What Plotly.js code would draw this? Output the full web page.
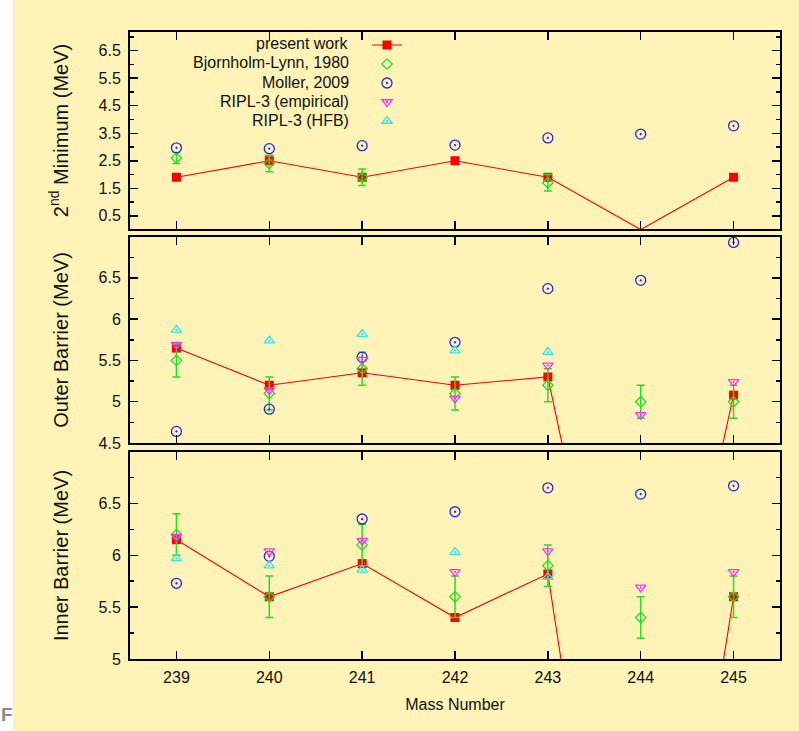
<!DOCTYPE html>
<html>
<head>
<meta charset="utf-8">
<script src="https://cdn.plot.ly/plotly-3.0.1.min.js"></script>
<style>html,body{margin:0;padding:0;background:#fff;}#chart{width:799px;height:731px;}</style>
</head>
<body>
<div id="chart"></div>
<script>
// ---- data ----
const massNumbers = [239, 240, 241, 242, 243, 244, 245];

const seriesNames = ["present work", "Bjornholm-Lynn, 1980", "Moller, 2009", "RIPL-3 (empirical)", "RIPL-3 (HFB)"];

// 2nd minimum (MeV)
const presentSecondMin = [1.9, 2.5, 1.9, 2.5, 1.9, 0, 1.9];
const bjornholmSecondMin = [2.6, 2.4, 1.9, null, 1.7, null, null];
const bjornholmSecondMinErr = [0.2, 0.3, 0.3, null, 0.3, null, null];
const mollerSecondMin = [2.97, 2.94, 3.05, 3.07, 3.33, 3.47, 3.77];
const riplEmpSecondMin = [null, null, null, null, null, null, null];
const riplHfbSecondMin = [null, null, null, null, null, null, null];

// Outer barrier (MeV)
const presentOuter = [5.65, 5.2, 5.35, 5.2, 5.3, 0, 5.08];
const bjornholmOuter = [5.5, 5.1, 5.4, 5.1, 5.2, 5.0, 5.0];
const bjornholmOuterErr = [0.2, 0.2, 0.2, 0.2, 0.2, 0.2, 0.2];
const mollerOuter = [4.64, 4.91, 5.54, 5.72, 6.37, 6.47, 6.93];
const riplEmpOuter = [5.69, 5.14, 5.51, 5.04, 5.44, 4.84, 5.24];
const riplHfbOuter = [5.87, 5.74, 5.82, 5.62, 5.60, null, null];

// Inner barrier (MeV)
const presentInner = [6.15, 5.6, 5.92, 5.4, 5.82, 0, 5.6];
const bjornholmInner = [6.2, 5.6, 6.1, 5.6, 5.9, 5.4, 5.6];
const bjornholmInnerErr = [0.2, 0.2, 0.2, 0.2, 0.2, 0.2, 0.2];
const mollerInner = [5.73, 5.99, 6.35, 6.42, 6.65, 6.59, 6.67];
const riplEmpInner = [6.18, 6.04, 6.14, 5.84, 6.04, 5.69, 5.84];
const riplHfbInner = [5.97, 5.90, 5.86, 6.03, 5.79, null, null];

const panelTitles = ["2<sup>nd</sup> Minimum (MeV)", "Outer Barrier (MeV)", "Inner Barrier (MeV)"];
const xTitle = "Mass Number";

// ---- styles ----
const RED = "#ff0000", GREEN = "#22e022", BLUE = "#2626e6", MAGENTA = "#ff30ff", CYAN = "#2ee6e6";
const FONT = "Liberation Sans, Arial, Helvetica, sans-serif";
const BG = "#fff3b8";

function panelTraces(k, present, bl, blErr, moller, riplE, riplH, legend) {
  const xa = k === 1 ? "x" : "x" + k, ya = k === 1 ? "y" : "y" + k;
  return [
    {x: massNumbers, y: present, xaxis: xa, yaxis: ya, mode: "lines+markers", name: "", showlegend: legend,
     line: {color: RED, width: 1.1}, marker: {symbol: "square", size: 9, color: RED}, cliponaxis: false},
    {x: massNumbers, y: bl, xaxis: xa, yaxis: ya, mode: "markers", name: "", showlegend: legend,
     marker: {symbol: "diamond-open", size: 8, color: GREEN, line: {width: 1.3, color: GREEN}},
     error_y: {type: "data", array: blErr, visible: true, color: GREEN, thickness: 1.5, width: 4}, cliponaxis: false},
    {x: massNumbers, y: moller, xaxis: xa, yaxis: ya, mode: "markers", name: "", showlegend: legend,
     marker: {symbol: "circle-open-dot", size: 10, color: BLUE, line: {width: 1.3, color: BLUE}}, cliponaxis: false},
    {x: massNumbers, y: riplE, xaxis: xa, yaxis: ya, mode: "markers", name: "", showlegend: legend,
     marker: {symbol: "triangle-down-open-dot", size: 9, color: MAGENTA, line: {width: 1.3, color: MAGENTA}}, cliponaxis: false},
    {x: massNumbers, y: riplH, xaxis: xa, yaxis: ya, mode: "markers", name: "", showlegend: legend,
     marker: {symbol: "triangle-up-open-dot", size: 9, color: CYAN, line: {width: 1.3, color: CYAN}}, cliponaxis: false}
  ];
}

const traces = [].concat(
  panelTraces(1, presentSecondMin, bjornholmSecondMin, bjornholmSecondMinErr, mollerSecondMin, riplEmpSecondMin, riplHfbSecondMin, false),
  panelTraces(2, presentOuter, bjornholmOuter, bjornholmOuterErr, mollerOuter, riplEmpOuter, riplHfbOuter, true),
  panelTraces(3, presentInner, bjornholmInner, bjornholmInnerErr, mollerInner, riplEmpInner, riplHfbInner, false)
);
traces.forEach((t, i) => { t.hovertemplate = seriesNames[i % 5] + ": %{y}<extra></extra>"; });

const axisBase = {
  showline: true, linecolor: "#000", linewidth: 2, mirror: "ticks",
  ticks: "inside", ticklen: 8, tickwidth: 1.5, tickcolor: "#000",
  showgrid: false, zeroline: false, fixedrange: true,
  tickfont: {family: FONT, size: 16, color: "#111"}
};
function xAxis(anchor, labels) {
  return Object.assign({}, axisBase, {
    anchor: anchor, domain: [0, 1], range: [238.5, 245.5], tick0: 239, dtick: 1,
    showticklabels: labels, ticklabelstandoff: 3
  });
}
function yAxis(anchor, domain, range, tick0, dtick, minor, title) {
  return Object.assign({}, axisBase, {
    anchor: anchor, domain: domain, range: range, tick0: tick0, dtick: dtick,
    minor: {ticks: "inside", ticklen: 4, tickwidth: 1.5, tickcolor: "#000", tick0: tick0, dtick: minor},
    ticklabelstandoff: 4,
    title: {text: title, font: {family: FONT, size: 20, color: "#111"}, standoff: 25}
  });
}

const labelRows = [44, 63, 82, 101, 120];
const annotations = seriesNames.map((n, i) => ({
  text: n, xref: "paper", yref: "paper", x: (351 - 130) / 650, y: 1 - (labelRows[i] - 32) / 627,
  xanchor: "right", yanchor: "middle", showarrow: false,
  font: {family: FONT, size: 16, color: "#111"}
}));
annotations.push({
  text: "<b>F</b>", xref: "paper", yref: "paper", x: (-1 - 130) / 650, y: 1 - (714 - 32) / 627,
  xanchor: "left", yanchor: "middle", showarrow: false,
  font: {family: FONT, size: 19, color: "#8a8a8a"}
});

const layout = {
  width: 799, height: 731,
  margin: {l: 130, r: 19, t: 32, b: 72, pad: 0},
  paper_bgcolor: BG, plot_bgcolor: BG,
  font: {family: FONT, color: "#111"},
  xaxis: xAxis("y", false),
  xaxis2: xAxis("y2", false),
  xaxis3: Object.assign(xAxis("y3", true), {title: {text: xTitle, font: {family: FONT, size: 16, color: "#111"}, standoff: 14}}),
  yaxis: yAxis("x", [0.6858, 1], [0.02, 7.18], 0.5, 1, 0.5, panelTitles[0]),
  yaxis2: yAxis("x2", [0.3445, 0.673], [4.5, 6.995], 4.5, 0.5, 0.25, panelTitles[1]),
  yaxis3: yAxis("x3", [0, 0.330], [5, 6.995], 5, 0.5, 0.25, panelTitles[2]),
  showlegend: true,
  legend: {x: (387 - 20 - 130) / 650, y: 1 - (44 - 9.5 - 4 - 32) / 627, xanchor: "left", yanchor: "top",
    bgcolor: "rgba(0,0,0,0)", borderwidth: 0, font: {family: FONT, size: 12}, tracegroupgap: 0, itemwidth: 30},
  annotations: annotations,
  shapes: [{type: "rect", xref: "paper", yref: "paper", x0: -0.25, x1: (13 - 130) / 650, y0: -0.2, y1: 1.1,
    fillcolor: "#ffffff", line: {width: 0}, layer: "below"}]
};

Plotly.newPlot("chart", traces, layout, {displayModeBar: false, staticPlot: true});
</script>
</body>
</html>
